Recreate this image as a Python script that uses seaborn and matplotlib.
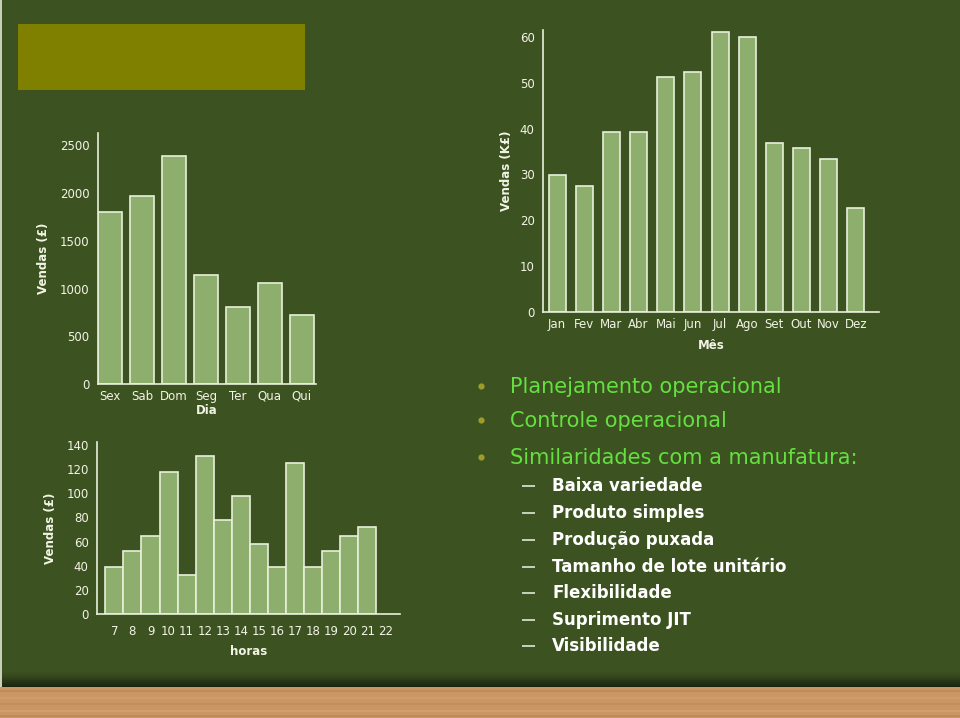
import matplotlib
matplotlib.use("Agg")
import matplotlib.pyplot as plt
import seaborn as sns
import pandas as pd
from matplotlib.patches import Rectangle

# ---------------- data ----------------
dias = ["Sex", "Sab", "Dom", "Seg", "Ter", "Qua", "Qui"]
vendas_dia = [1800, 1975, 2390, 1140, 810, 1060, 720]

meses = ["Jan", "Fev", "Mar", "Abr", "Mai", "Jun", "Jul", "Ago", "Set", "Out", "Nov", "Dez"]
vendas_mes = [29.9, 27.5, 39.3, 39.3, 51.2, 52.4, 61.0, 59.9, 36.9, 35.7, 33.4, 22.7]

horas = ["7", "8", "9", "10", "11", "12", "13", "14", "15", "16", "17", "18", "19", "20", "21"]
horas_eixo = horas + ["22"]
vendas_hora = [39, 52, 65, 118, 32, 131, 78, 98, 58, 39, 125, 39, 52, 65, 72]

bullets = ["Planejamento operacional", "Controle operacional", "Similaridades com a manufatura:"]
subitens = ["Baixa variedade", "Produto simples", "Produção puxada",
            "Tamanho de lote unitário", "Flexibilidade", "Suprimento JIT", "Visibilidade"]

# ---------------- style ----------------
BG = "#3D5221"
BAR = "#8DAE6C"
EDGE = "#E8F0DA"
TXT = "#F2F4E6"
sns.set_style("white")
plt.rcParams["font.family"] = ["DejaVu Sans"]

W, H = 960, 718
fig = plt.figure(figsize=(W / 100, H / 100), dpi=100, facecolor=BG)

# background decorations (pixel coordinates)
bg = fig.add_axes([0, 0, 1, 1], zorder=-10)
bg.set_xlim(0, W)
bg.set_ylim(H, 0)
bg.axis("off")
bg.add_patch(Rectangle((0, 0), W, H, color=BG))
grad = ["#3A4E1F", "#364A1D", "#32451B", "#2D3F18", "#283815", "#233112", "#1E2A0F", "#1A250D"]
for i, c in enumerate(grad):
    bg.add_patch(Rectangle((0, 672 + i * 2), W, 2, color=c, lw=0))
bg.add_patch(Rectangle((0, 687), W, H - 687, color="#C99664", lw=0))
for y0, c in [(690, "#B9844F"), (697, "#D2A270"), (703, "#BE8A56"), (710, "#D4A676"), (715, "#B8824E")]:
    bg.add_patch(Rectangle((0, y0), W, 2, color=c, lw=0, alpha=0.6))
bg.add_patch(Rectangle((0, 0), 2, 687, color="#C8D0B8", lw=0))
bg.add_patch(Rectangle((18, 24), 287, 66, color="#808000", lw=0))


def px_axes(x0, y0, x1, y1):
    return fig.add_axes([x0 / W, 1 - y1 / H, (x1 - x0) / W, (y1 - y0) / H])


def style_axes(ax, xfs, yfs, xpad=4):
    ax.set_facecolor("none")
    for s in ["top", "right"]:
        ax.spines[s].set_visible(False)
    for s in ["left", "bottom"]:
        ax.spines[s].set_color(EDGE)
        ax.spines[s].set_linewidth(1.2)
    ax.tick_params(axis="x", length=0, colors=TXT, labelsize=xfs, pad=xpad)
    ax.tick_params(axis="y", length=3, width=1, colors=TXT, labelsize=yfs, pad=3, direction="out")


# ---------------- chart 1: dia ----------------
ax1 = px_axes(98, 133, 316, 384)
df1 = pd.DataFrame({"Dia": dias, "Vendas": vendas_dia})
sns.barplot(data=df1, x="Dia", y="Vendas", order=dias, color=BAR, saturation=1,
            edgecolor=EDGE, linewidth=1.2, width=0.75, ax=ax1)
ax1.set_xlim(-0.39, 6.45)
ax1.set_ylim(0, 2630)
ax1.set_yticks([0, 500, 1000, 1500, 2000, 2500])
style_axes(ax1, 8.5, 8.5)
ax1.set_xlabel("Dia", color=TXT, fontsize=8.5, fontweight="bold", labelpad=1)
ax1.set_ylabel("Vendas (£)", color=TXT, fontsize=8.5, fontweight="bold", labelpad=7)

# ---------------- chart 2: mes ----------------
ax2 = px_axes(543, 30, 879, 312)
df2 = pd.DataFrame({"Mês": meses, "Vendas": vendas_mes})
sns.barplot(data=df2, x="Mês", y="Vendas", order=meses, color=BAR, saturation=1,
            edgecolor=EDGE, linewidth=1.2, width=0.63, ax=ax2)
ax2.set_xlim(-0.52, 11.85)
ax2.set_ylim(0, 61.5)
ax2.set_yticks([0, 10, 20, 30, 40, 50, 60])
style_axes(ax2, 8.5, 8.5)
ax2.set_xlabel("Mês", color=TXT, fontsize=8.5, fontweight="bold", labelpad=6)
ax2.set_ylabel("Vendas (K£)", color=TXT, fontsize=8.5, fontweight="bold", labelpad=5)

# ---------------- chart 3: horas ----------------
ax3 = px_axes(97, 442, 400, 614)
df3 = pd.DataFrame({"horas": horas, "Vendas": vendas_hora})
sns.barplot(data=df3, x="horas", y="Vendas", order=horas_eixo, color=BAR, saturation=1,
            edgecolor=EDGE, linewidth=1.2, width=1.0, ax=ax3)
ax3.set_xlim(-0.96, 15.8)
ax3.set_ylim(0, 142.5)
ax3.set_yticks([0, 20, 40, 60, 80, 100, 120, 140])
style_axes(ax3, 8.5, 8.5, xpad=8)
ax3.set_xlabel("horas", color=TXT, fontsize=8.5, fontweight="bold", labelpad=5)
ax3.set_ylabel("Vendas (£)", color=TXT, fontsize=8.5, fontweight="bold", labelpad=7)

# ---------------- text block ----------------
bullet_y = [387, 421, 458]
for txt, y in zip(bullets, bullet_y):
    bg.plot([481], [y - 1], marker="o", ms=4.5, color="#9E9A2C", mec="none")
    bg.text(510, y, txt, color="#64E040", fontsize=15, va="center", ha="left")

sub_y = [486, 513, 540, 567, 593, 620, 646]
for txt, y in zip(subitens, sub_y):
    bg.plot([522, 535], [y, y], color=TXT, lw=1.1, solid_capstyle="butt")
    bg.text(552, y, txt, color="#FFFFFF", fontsize=12, fontweight="bold", va="center", ha="left")

fig.savefig("out.png", dpi=100, facecolor=BG)
